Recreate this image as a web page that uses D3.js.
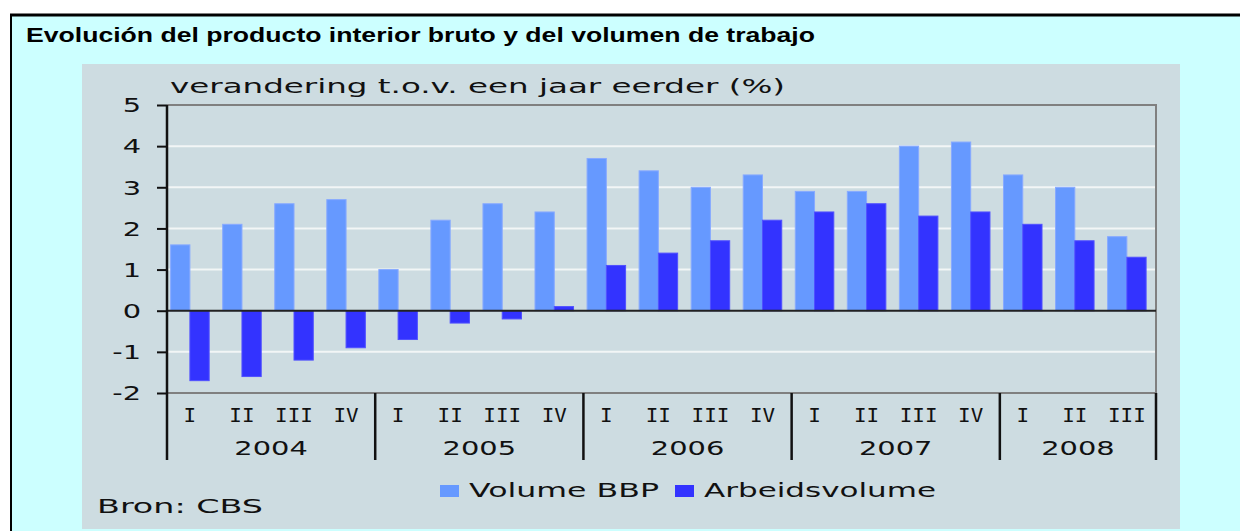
<!DOCTYPE html>
<html>
<head>
<meta charset="utf-8">
<script src="https://cdn.jsdelivr.net/npm/d3@7"></script>
<style>
  html, body { margin: 0; padding: 0; background: #ffffff; }
  svg { display: block; }
</style>
</head>
<body>
<svg id="chart" width="1240" height="531"></svg>
<script>
// chart data
const years = ["2004", "2005", "2006", "2007", "2008"];
const quarters = [
  ["I", "II", "III", "IV"],
  ["I", "II", "III", "IV"],
  ["I", "II", "III", "IV"],
  ["I", "II", "III", "IV"],
  ["I", "II", "III"]
];
const volumeBBP = [1.6, 2.1, 2.6, 2.7, 1.0, 2.2, 2.6, 2.4, 3.7, 3.4, 3.0, 3.3, 2.9, 2.9, 4.0, 4.1, 3.3, 3.0, 1.8];
const arbeidsvolume = [-1.7, -1.6, -1.2, -0.9, -0.7, -0.3, -0.2, 0.1, 1.1, 1.4, 1.7, 2.2, 2.4, 2.6, 2.3, 2.4, 2.1, 1.7, 1.3];
const yTicks = [-2, -1, 0, 1, 2, 3, 4, 5];
const seriesNames = ["Volume BBP", "Arbeidsvolume"];
const seriesColors = ["#6699ff", "#3333ff"];

// one key per quarter, e.g. "2004-I"
const keys = [];
const yearOfKey = [];
years.forEach((yr, i) => {
    quarters[i].forEach(q => {
        keys.push(yr + "-" + q);
        yearOfKey.push(yr);
    });
});

const svg = d3.select("#chart");
const chartFont = "'DejaVu Sans', Verdana, sans-serif";
const monoFont = "'DejaVu Sans Mono', monospace";
const stretch = 1.52; // the picture's text is drawn wide

// stretch a text horizontally by setting its textLength
function widen(sel, k) {
    sel.each(function () {
        const w = this.getComputedTextLength();
        d3.select(this).attr("textLength", w * k).attr("lengthAdjust", "spacingAndGlyphs");
    });
}

// outer frame
svg.append("rect").attr("x", 10).attr("y", 14).attr("width", 1240).attr("height", 540)
    .attr("fill", "#ccffff");
svg.append("line").attr("x1", 10).attr("x2", 1240).attr("y1", 15).attr("y2", 15)
    .attr("stroke", "#000").attr("stroke-width", 3);
svg.append("line").attr("x1", 11).attr("x2", 11).attr("y1", 14).attr("y2", 531)
    .attr("stroke", "#000").attr("stroke-width", 2);

svg.append("text")
    .attr("x", 26).attr("y", 42)
    .attr("font-family", "'Liberation Sans', Arial, sans-serif")
    .attr("font-weight", "bold").attr("font-size", 21)
    .attr("textLength", 789).attr("lengthAdjust", "spacingAndGlyphs")
    .text("Evolución del producto interior bruto y del volumen de trabajo");

// chart panel
svg.append("rect").attr("x", 82).attr("y", 64).attr("width", 1098).attr("height", 465)
    .attr("fill", "#cddce1");

const plot = { left: 167, right: 1156, top: 105, bottom: 393 };

const x = d3.scaleBand().domain(keys).range([plot.left, plot.right]).padding(0);
const y = d3.scaleLinear().domain([d3.min(yTicks), d3.max(yTicks)]).range([plot.bottom, plot.top]);
const bw = x.bandwidth();
const barW = bw * 0.37;
const barOffsets = [bw * 0.07, bw * 0.44];

// grid lines
svg.append("g").selectAll("line")
    .data(yTicks.filter(t => t !== 0 && t !== d3.min(yTicks) && t !== d3.max(yTicks)))
    .enter().append("line")
    .attr("x1", plot.left).attr("x2", plot.right)
    .attr("y1", d => y(d)).attr("y2", d => y(d))
    .attr("stroke", "#f2f6f6").attr("stroke-width", 2);

// top, right and bottom frame of the plot
svg.append("path")
    .attr("d", `M${plot.left},${y(d3.max(yTicks))}H${plot.right}V${y(d3.min(yTicks))}H${plot.left}`)
    .attr("fill", "none").attr("stroke", "#808080").attr("stroke-width", 2);

// bars
const series = [volumeBBP, arbeidsvolume];
series.forEach((vals, s) => {
    svg.append("g").selectAll("rect")
        .data(vals)
        .enter().append("rect")
        .attr("x", (d, i) => x(keys[i]) + barOffsets[s])
        .attr("width", barW)
        .attr("y", d => y(Math.max(0, d)))
        .attr("height", d => Math.abs(y(d) - y(0)))
        .attr("fill", seriesColors[s])
        .attr("stroke", s === 0 ? "#88aaff" : "#5050ff")
        .attr("stroke-width", 1);
});

// zero line
svg.append("line")
    .attr("x1", plot.left).attr("x2", plot.right)
    .attr("y1", y(0)).attr("y2", y(0))
    .attr("stroke", "#222").attr("stroke-width", 2);

// y axis
const yAxis = svg.append("g")
    .attr("transform", `translate(${plot.left},0)`)
    .call(d3.axisLeft(y).tickValues(yTicks).tickSize(10).tickPadding(16).tickFormat(d => String(d)));
yAxis.select(".domain").remove();
yAxis.selectAll(".tick line").attr("stroke", "#111").attr("stroke-width", 2);
yAxis.selectAll(".tick text")
    .attr("font-family", chartFont).attr("font-size", 19).attr("fill", "#111")
    .attr("dy", "0.36em")
    .call(widen, stretch);

svg.append("line")
    .attr("x1", plot.left).attr("x2", plot.left)
    .attr("y1", plot.top).attr("y2", 460)
    .attr("stroke", "#111").attr("stroke-width", 2.5);

// quarter labels under each pair of bars
svg.append("g").selectAll("text")
    .data(keys)
    .enter().append("text")
    .attr("x", d => x(d) + barOffsets[1])
    .attr("y", 422)
    .attr("text-anchor", "middle")
    .attr("font-family", monoFont).attr("font-size", 19).attr("fill", "#111")
    .text(d => d.split("-")[1])
    .call(widen, 1.1);

// year labels and separators
const yearSpans = years.map(yr => {
    const ks = keys.filter((k, i) => yearOfKey[i] === yr);
    return { year: yr, x0: x(ks[0]), x1: x(ks[ks.length - 1]) + bw };
});

svg.append("g").selectAll("text")
    .data(yearSpans)
    .enter().append("text")
    .attr("x", d => (d.x0 + d.x1) / 2)
    .attr("y", 455)
    .attr("text-anchor", "middle")
    .attr("font-family", chartFont).attr("font-size", 19).attr("fill", "#111")
    .text(d => d.year)
    .call(widen, stretch);

svg.append("g").selectAll("line")
    .data(yearSpans)
    .enter().append("line")
    .attr("x1", d => d.x1).attr("x2", d => d.x1)
    .attr("y1", plot.bottom).attr("y2", 460)
    .attr("stroke", "#111").attr("stroke-width", 2.5);

// axis title
svg.append("text")
    .attr("x", 170).attr("y", 93)
    .attr("font-family", chartFont).attr("font-size", 19).attr("fill", "#111")
    .attr("textLength", 615).attr("lengthAdjust", "spacingAndGlyphs")
    .text("verandering t.o.v. een jaar eerder (%)");

// legend
const legendX = [440, 675];
const legendW = [190, 232];
const legend = svg.append("g").selectAll("g")
    .data(seriesNames)
    .enter().append("g")
    .attr("transform", (d, i) => `translate(${legendX[i]},485)`);
legend.append("rect")
    .attr("width", 19).attr("height", 12)
    .attr("fill", (d, i) => seriesColors[i]);
legend.append("text")
    .attr("x", 29).attr("y", 12)
    .attr("font-family", chartFont).attr("font-size", 19).attr("fill", "#111")
    .attr("textLength", (d, i) => legendW[i]).attr("lengthAdjust", "spacingAndGlyphs")
    .text(d => d);

// source
svg.append("text")
    .attr("x", 97).attr("y", 513)
    .attr("font-family", chartFont).attr("font-size", 19).attr("fill", "#111")
    .attr("textLength", 166).attr("lengthAdjust", "spacingAndGlyphs")
    .text("Bron: CBS");
</script>
</body>
</html>
